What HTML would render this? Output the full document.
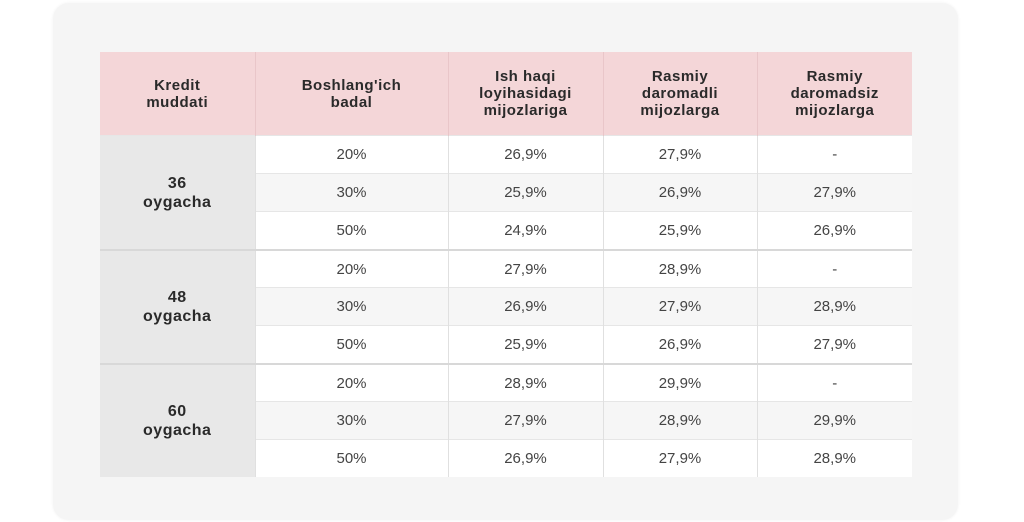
<!DOCTYPE html>
<html><head><meta charset="utf-8"><style>
body{margin:0;width:1024px;height:522px;background:#fff;position:relative;overflow:hidden;font-family:"Liberation Sans",sans-serif;}
.card{position:absolute;left:53px;top:3px;width:905px;height:517px;background:#f5f5f5;border-radius:16px;box-shadow:0 0 3px rgba(0,0,0,0.06);}
table{position:absolute;left:100px;top:52px;border-collapse:collapse;table-layout:fixed;}
th{background:#f4d6d8;color:#2a2a2a;font-weight:bold;font-size:15px;line-height:17px;height:83px;padding:0;border-left:1px solid #e9c6c9;letter-spacing:0.5px;}
th:first-child{border-left:none}
td{height:37px;padding:0;text-align:center;font-size:15px;color:#444;border-left:1px solid #e0e0e0;border-top:1px solid #e6e6e6;background:#fff;}
tr.alt td{background:#f6f6f6}
td.term{background:#e8e8e8;font-weight:bold;color:#2a2a2a;font-size:16px;line-height:19px;letter-spacing:0.5px;border-left:none}
tr.grp td{border-top:2px solid #d8d8d8;height:36px}
</style></head><body>
<div class="card"></div>
<table>
<colgroup><col style="width:155px"><col style="width:193px"><col style="width:155px"><col style="width:154px"><col style="width:155px"></colgroup>
<tr>
<th>Kredit<br>muddati</th>
<th>Boshlang'ich<br>badal</th>
<th>Ish haqi<br>loyihasidagi<br>mijozlariga</th>
<th>Rasmiy<br>daromadli<br>mijozlarga</th>
<th>Rasmiy<br>daromadsiz<br>mijozlarga</th>
</tr>
<tr><td class="term" rowspan="3">36<br>oygacha</td><td>20%</td><td>26,9%</td><td>27,9%</td><td>-</td></tr>
<tr class="alt"><td>30%</td><td>25,9%</td><td>26,9%</td><td>27,9%</td></tr>
<tr><td>50%</td><td>24,9%</td><td>25,9%</td><td>26,9%</td></tr>
<tr class="grp"><td class="term" rowspan="3">48<br>oygacha</td><td>20%</td><td>27,9%</td><td>28,9%</td><td>-</td></tr>
<tr class="alt"><td>30%</td><td>26,9%</td><td>27,9%</td><td>28,9%</td></tr>
<tr><td>50%</td><td>25,9%</td><td>26,9%</td><td>27,9%</td></tr>
<tr class="grp"><td class="term" rowspan="3">60<br>oygacha</td><td>20%</td><td>28,9%</td><td>29,9%</td><td>-</td></tr>
<tr class="alt"><td>30%</td><td>27,9%</td><td>28,9%</td><td>29,9%</td></tr>
<tr><td>50%</td><td>26,9%</td><td>27,9%</td><td>28,9%</td></tr>
</table>
</body></html>
